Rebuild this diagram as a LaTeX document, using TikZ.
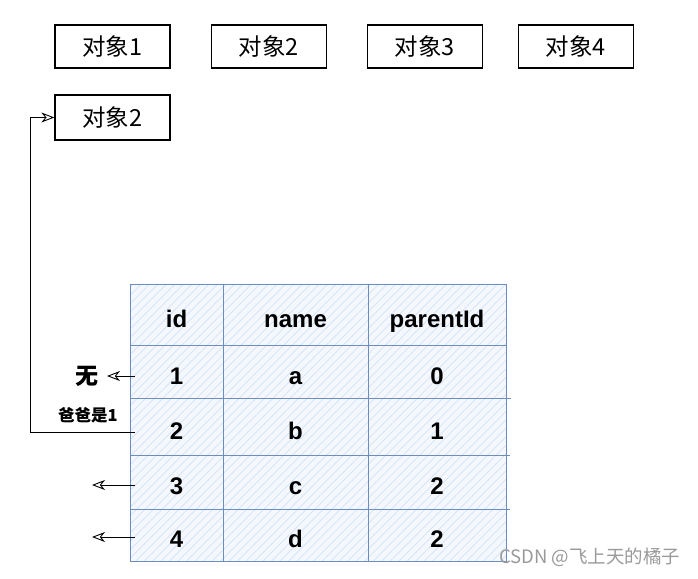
\documentclass[tikz,border=0pt]{standalone}
\usepackage{fontspec}
\setmainfont{Liberation Sans}
\newfontfamily\cjk{Noto Sans CJK SC}
\usetikzlibrary{arrows.meta,patterns.meta}
\definecolor{tblline}{HTML}{6C8EBF}
\definecolor{hatch}{HTML}{D3E2F8}
\definecolor{wm}{HTML}{9A9A9A}
\tikzset{
  objbox/.style={draw=black,line width=1.3pt,minimum width=115pt,minimum height=43pt,inner sep=0pt,font=\cjk\fontsize{23.5}{26}\selectfont},
  cell/.style={draw=tblline,line width=0.9pt,inner sep=0pt,text height=25pt,text depth=0pt,font=\bfseries\fontsize{24}{26}\selectfont},
  arr/.style={draw=black,line width=0.9pt,-{Stealth[open,length=13pt,width=10pt,inset=4pt]}},
}
\begin{document}
\begin{tikzpicture}[x=1pt,y=-1pt]
\useasboundingbox (0,0) rectangle (698,578);
\fill[white] (0,0) rectangle (698,578);
% objects
\node[objbox] (o1) at (112.5,46.5) {对象1};
\node[objbox] (o2) at (269,46.5) {对象2};
\node[objbox] (o3) at (425,46.5) {对象3};
\node[objbox] (o4) at (576,46.5) {对象4};
\node[objbox,minimum height=45pt] (o5) at (112.5,117.5) {对象2};
% table background
\fill[hatch!25] (130,284) rectangle (506,561);
\fill[pattern={Lines[angle=45,distance=6pt,line width=0.7pt]},pattern color=hatch] (130,284) rectangle (506,561);
% cells
\foreach \r/\y/\h/\a/\b/\c in {0/314.5/61/id/name/parentId,1/371.5/53/1/a/0,2/426.5/57/2/b/1,3/482/54/3/c/2,4/535/52/4/d/2}{
  \node[cell,minimum width=93pt,minimum height=\h pt] (a\r) at (176.5,\y) {\a};
  \node[cell,minimum width=145pt,minimum height=\h pt] (b\r) at (295.5,\y) {\b};
  \node[cell,minimum width=138pt,minimum height=\h pt] (c\r) at (437,\y) {\c};
}
\draw[tblline,line width=0.9pt] (c1.south east) -- ++(5,0);
\draw[tblline,line width=0.9pt] (c2.south east) -- ++(4,0);
\draw[tblline,line width=0.9pt] (c3.south east) -- ++(4,0);
% annotations
\node[font=\cjk\bfseries\fontsize{23}{25}\selectfont] (wu) at (87,376) {无};
\node[font=\cjk\bfseries\fontsize{16.5}{18}\selectfont] (bb) at (88,415) {爸爸是1};
\coordinate (p1) at (107,376);
\draw[arr] ([xshift=5pt]a1.west |- p1) -- (p1);
\coordinate (k) at (30,432);
\draw[arr] ([xshift=5pt]a2.west |- k) -- (k) |- (o5.west);
\coordinate (p3) at (92,485);
\coordinate (p4) at (92,537);
\draw[arr] ([xshift=5pt]a3.west |- p3) -- (p3);
\draw[arr] ([xshift=5pt]a4.west |- p4) -- (p4);
% watermark
\node[font=\cjk\fontsize{18.5}{20}\selectfont,text=wm,anchor=east] (w) at (684,557) {CSDN @飞上天的橘子};
\end{tikzpicture}
\end{document}
